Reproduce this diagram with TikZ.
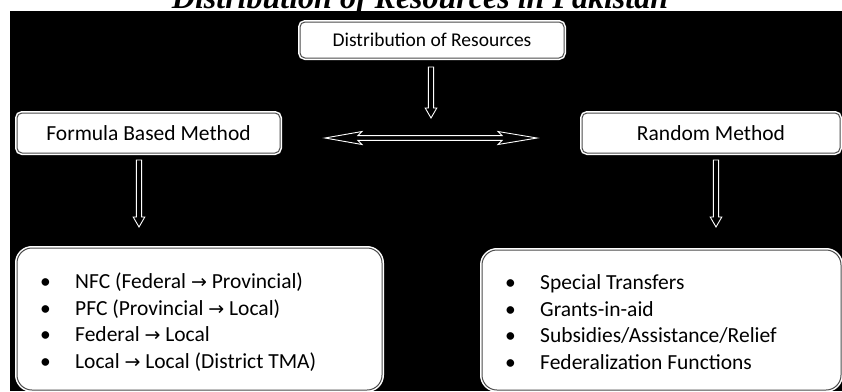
\documentclass[tikz,border=0pt]{standalone}
\usepackage{fontspec}
\setmainfont{Carlito}
\newfontfamily\titlefont{Liberation Serif}
\newfontfamily\arrowfont{DejaVu Sans}
\newcommand\ar{{\arrowfont\fontsize{19}{19}\selectfont →}}
\newcommand\itm[1]{\makebox[35pt][l]{\textbullet}#1}
\newcommand\hollowdown[3]{%
  \draw[hollow] (#1-2.6,#2) -- (#1+2.6,#2) -- (#1+2.6,#3-10) -- (#1+5.8,#3-10)
    -- (#1,#3) -- (#1-5.8,#3-10) -- (#1-2.6,#3-10) -- cycle;}
\tikzset{
  hollow/.style={draw=white, fill=black, line width=0.9pt, line join=miter},
  boxshape/.style={fill=white, draw=gray!60!black, line width=1pt,
    preaction={draw=white, line width=4pt}, inner sep=0pt,
    font=\fontsize{21.5}{25}\selectfont},
  smallbox/.style={boxshape, rounded corners=5pt},
  bigbox/.style={boxshape, rounded corners=15pt},
  listtext/.style={anchor=west, inner sep=0pt, align=left,
    font=\fontsize{21.5}{26.7}\selectfont}
}
\begin{document}
\begin{tikzpicture}[x=1pt,y=-1pt]
\useasboundingbox (0,0) rectangle (842,391);
\fill[white] (0,0) rectangle (842,391);
\fill[black] (10,11) rectangle (842,391);
\node[anchor=base, inner sep=0pt, font=\titlefont\bfseries\itshape\fontsize{32}{36}\selectfont]
  (title) at (420,8) {Distribution of Resources in Pakistan};

\node[smallbox, minimum width=264pt, minimum height=36pt, font=\fontsize{19.5}{23}\selectfont] (dist) at (432,40) {Distribution of Resources};
\node[smallbox, minimum width=263pt, minimum height=40pt] (formula) at (148.5,133) {Formula Based Method};
\node[smallbox, minimum width=258pt, minimum height=40pt] (random) at (711,133) {Random Method};

\node[bigbox, minimum width=365pt, minimum height=142pt] (fbox) at (199.5,319) {};
\node[bigbox, minimum width=359pt, minimum height=140pt] (rbox) at (661.5,320) {};

\node[listtext] (flist) at (40,322) {\itm{NFC (Federal \ar{} Provincial)}\\
  \itm{PFC (Provincial \ar{} Local)}\\
  \itm{Federal \ar{} Local}\\
  \itm{Local \ar{} Local (District TMA)}};
\node[listtext] (rlist) at (505,322) {\itm{Special Transfers}\\
  \itm{Grants-in-aid}\\
  \itm{Subsidies/Assistance/Relief}\\
  \itm{Federalization Functions}};

\hollowdown{431}{67}{118}
\hollowdown{139}{160}{227}
\hollowdown{716}{160}{227}

\draw[hollow] (325,138) -- (362,131.5) -- (358,135.6) -- (502,135.6) -- (498,131.5)
  -- (537,138) -- (498,144.5) -- (502,140.4) -- (358,140.4) -- (362,144.5) -- cycle;
\end{tikzpicture}
\end{document}
